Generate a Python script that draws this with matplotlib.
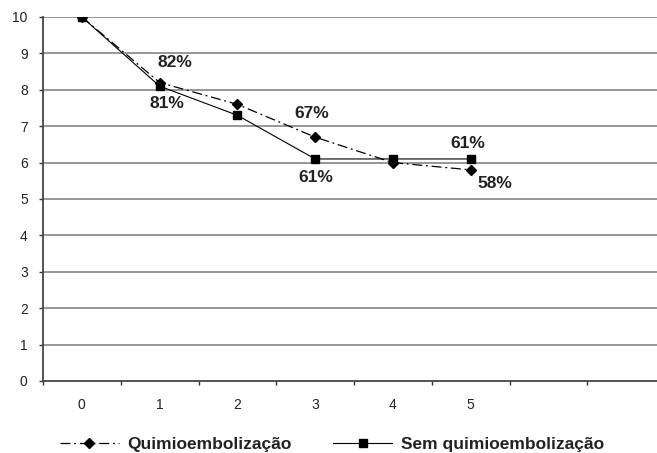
import matplotlib.pyplot as plt
from matplotlib.ticker import FixedLocator

plt.rcParams['font.family'] = ['Liberation Sans', 'DejaVu Sans']

# Tempo (categorias) e valores das duas curvas
tempo = [0, 1, 2, 3, 4, 5]
quimio = [10, 8.2, 7.6, 6.7, 6.0, 5.8]
sem_quimio = [10, 8.1, 7.3, 6.1, 6.1, 6.1]

# Rótulos percentuais: (índice do ponto, deslocamento em pixels)
rotulos_quimio = [(1, (15, 20)), (3, (-3, 24)), (5, (24, -14))]
rotulos_sem = [(1, (7, -17)), (3, (1, -19)), (5, (-3, 15))]

n_categorias = 8

fig = plt.figure(figsize=(6.57, 4.53), dpi=100)
ax = fig.add_axes([43 / 657, 72 / 453, 622 / 657, 364 / 453])

# Grade horizontal
for y in range(1, 11):
    ax.axhline(y, color='#7a7a7a', lw=1.1, zorder=0)

l1, = ax.plot(tempo, quimio, color='black', lw=0.9, dashes=(8, 3, 1.5, 3),
              marker='D', ms=5.5, markerfacecolor='black', zorder=3)
l2, = ax.plot(tempo, sem_quimio, color='black', lw=0.8,
              marker='s', ms=6, markerfacecolor='black', zorder=3)

for serie, rotulos in ((quimio, rotulos_quimio), (sem_quimio, rotulos_sem)):
    for i, (dx, dy) in rotulos:
        ax.annotate(f'{round(serie[i] * 10)}%', (tempo[i], serie[i]),
                    xytext=(dx, dy), textcoords='offset pixels',
                    ha='center', va='center', fontsize=12.5, fontweight='bold',
                    color='#222222')

ax.set_xlim(-0.5, n_categorias - 0.5)
ax.set_ylim(0, 10)

ax.set_xticks(tempo)
ax.set_xticklabels([str(t) for t in tempo])
ax.xaxis.set_minor_locator(FixedLocator([i - 0.5 for i in range(n_categorias + 1)]))
ax.tick_params(axis='x', which='major', length=0, pad=12, labelsize=10,
               labelcolor='#222222')
ax.tick_params(axis='x', which='minor', length=3, width=1, color='#333333')

ax.set_yticks(range(0, 11))
ax.tick_params(axis='y', length=3, width=1, color='#333333', pad=8,
               labelsize=10, labelcolor='#222222')

for s in ('top', 'right'):
    ax.spines[s].set_visible(False)
for s in ('left', 'bottom'):
    ax.spines[s].set_color('#444444')
    ax.spines[s].set_linewidth(1.3)

fig.legend([l1, l2], ['Quimioembolização', 'Sem quimioembolização'],
           loc='center', bbox_to_anchor=(332 / 657, 9 / 453), ncol=2,
           frameon=False, numpoints=1, handlelength=3.4, handletextpad=0.5,
           columnspacing=2.4, prop={'size': 12.5, 'weight': 'bold'},
           labelcolor='#222222')

fig.savefig('out.png', dpi=100)
